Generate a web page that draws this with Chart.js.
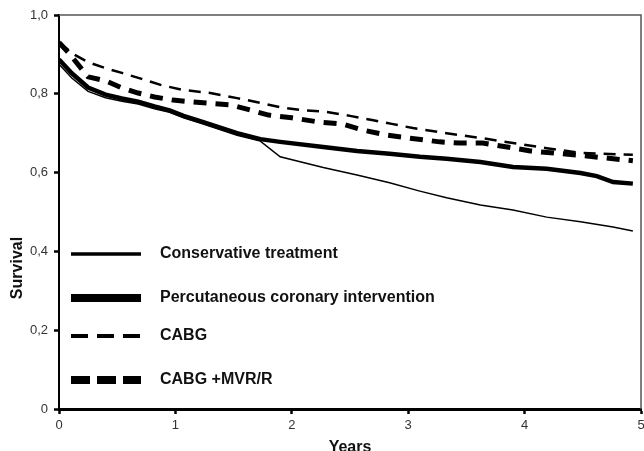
<!DOCTYPE html>
<html>
<head>
<meta charset="utf-8">
<script src="https://cdn.jsdelivr.net/npm/chart.js@4.4.0/dist/chart.umd.min.js"></script>
<style>
  html, body { margin: 0; padding: 0; background: #fff; }
  canvas { display: block; }
</style>
</head>
<body>
<canvas id="grafico" width="644" height="451"></canvas>
<script>
// survival curves (years, survival)
const conservadorT = [0, 0.11, 0.25, 0.4, 0.54, 0.68, 0.82, 0.95, 1.07, 1.24, 1.53, 1.73, 1.9, 2.27, 2.56, 2.84, 3.1, 3.33, 3.62, 3.9, 4.19, 4.48, 4.76, 4.93];
const conservadorV = [0.875, 0.84, 0.806, 0.79, 0.781, 0.774, 0.762, 0.753, 0.739, 0.723, 0.695, 0.68, 0.64, 0.613, 0.594, 0.574, 0.553, 0.536, 0.518, 0.505, 0.487, 0.475, 0.462, 0.452];

const pciT = [0, 0.11, 0.25, 0.4, 0.54, 0.68, 0.82, 0.95, 1.07, 1.24, 1.53, 1.73, 1.9, 2.27, 2.56, 2.84, 3.1, 3.33, 3.62, 3.9, 4.19, 4.48, 4.62, 4.76, 4.93];
const pciV = [0.887, 0.852, 0.816, 0.798, 0.788, 0.78, 0.768, 0.758, 0.744, 0.728, 0.7, 0.685, 0.678, 0.665, 0.655, 0.648, 0.64, 0.635, 0.627, 0.614, 0.61, 0.599, 0.591, 0.576, 0.572];

const cabgT = [0, 0.14, 0.25, 0.4, 0.54, 0.71, 0.88, 1.06, 1.3, 1.53, 1.73, 1.9, 2.07, 2.3, 2.5, 2.7, 2.87, 3.04, 3.33, 3.62, 3.9, 4.19, 4.48, 4.93];
const cabgV = [0.93, 0.898, 0.88, 0.865, 0.853, 0.838, 0.822, 0.81, 0.802, 0.789, 0.777, 0.766, 0.759, 0.754, 0.744, 0.733, 0.723, 0.713, 0.7, 0.688, 0.675, 0.662, 0.65, 0.645];

const mvrT = [0, 0.08, 0.25, 0.4, 0.54, 0.68, 0.82, 0.98, 1.24, 1.47, 1.64, 1.8, 2.0, 2.24, 2.44, 2.61, 2.82, 3.0, 3.27, 3.44, 3.64, 3.85, 4.05, 4.5, 4.93];
const mvrV = [0.93, 0.905, 0.843, 0.833, 0.815, 0.802, 0.792, 0.784, 0.777, 0.772, 0.759, 0.746, 0.739, 0.728, 0.723, 0.708, 0.695, 0.688, 0.678, 0.675, 0.675, 0.665, 0.655, 0.643, 0.63];

const etiquetas = ['Conservative treatment', 'Percutaneous coronary intervention', 'CABG', 'CABG +MVR/R'];
const yTicks = [0, 0.2, 0.4, 0.6, 0.8, 1.0];

function puntos(t, v) {
  return t.map((x, i) => ({ x: x, y: v[i] }));
}

const series = [
  { label: etiquetas[0], data: puntos(conservadorT, conservadorV), borderWidth: 1.5, borderDash: [], legendWidth: 3.5, legendDash: [] },
  { label: etiquetas[1], data: puntos(pciT, pciV), borderWidth: 4.5, borderDash: [], legendWidth: 8, legendDash: [] },
  { label: etiquetas[2], data: puntos(cabgT, cabgV), borderWidth: 2.5, borderDash: [12, 8], legendWidth: 4, legendDash: [17, 9] },
  { label: etiquetas[3], data: puntos(mvrT, mvrV), borderWidth: 5, borderDash: [13, 9], legendWidth: 8, legendDash: [19, 7] }
];

const leyendaY = [254, 298, 336, 380];
const fuente = '"Liberation Sans", Arial, sans-serif';

const marco = {
  id: 'marco',
  afterDraw(chart) {
    const { ctx, chartArea } = chart;
    ctx.save();
    // top and right border
    ctx.strokeStyle = '#555';
    ctx.lineWidth = 1.5;
    ctx.beginPath();
    ctx.moveTo(chartArea.left, chartArea.top);
    ctx.lineTo(chartArea.right, chartArea.top);
    ctx.lineTo(chartArea.right, chartArea.bottom);
    ctx.stroke();

    // legend inside the plot
    chart.data.datasets.forEach((ds, i) => {
      const y = leyendaY[i];
      ctx.strokeStyle = '#000';
      ctx.lineWidth = ds.legendWidth;
      ctx.setLineDash(ds.legendDash);
      ctx.lineCap = 'butt';
      ctx.beginPath();
      ctx.moveTo(71, y);
      ctx.lineTo(141, y);
      ctx.stroke();
      ctx.setLineDash([]);
      ctx.fillStyle = '#111';
      ctx.font = 'bold 16px ' + fuente;
      ctx.textBaseline = 'middle';
      ctx.textAlign = 'left';
      ctx.fillText(ds.label, 160, y);
    });

    // y axis title
    ctx.translate(18, 268);
    ctx.rotate(-Math.PI / 2);
    ctx.fillStyle = '#111';
    ctx.font = 'bold 16px ' + fuente;
    ctx.textAlign = 'center';
    ctx.textBaseline = 'middle';
    ctx.fillText('Survival', 0, 0);
    ctx.restore();
  }
};

const ctx = document.getElementById('grafico').getContext('2d');
new Chart(ctx, {
  type: 'line',
  data: {
    datasets: series.map(s => ({
      label: s.label,
      data: s.data,
      borderColor: '#000',
      backgroundColor: '#000',
      borderWidth: s.borderWidth,
      borderDash: s.borderDash,
      legendWidth: s.legendWidth,
      legendDash: s.legendDash,
      pointRadius: 0,
      tension: 0,
      fill: false
    }))
  },
  options: {
    responsive: false,
    devicePixelRatio: 1,
    animation: false,
    layout: { padding: { top: 15, right: 3, left: 0, bottom: 0 } },
    plugins: {
      legend: { display: false },
      tooltip: { enabled: false }
    },
    scales: {
      x: {
        type: 'linear',
        min: 0,
        max: 5,
        afterFit(scale) {
          scale.height = 42;
          scale.paddingRight = 0;
          scale.paddingLeft = 0;
        },
        border: { display: true, color: '#000', width: 3 },
        grid: { drawOnChartArea: false, drawTicks: true, tickLength: 5, tickColor: '#000', tickWidth: 2.5 },
        ticks: {
          stepSize: 1,
          padding: 4,
          color: '#333',
          font: { family: fuente, size: 13 }
        },
        title: {
          display: true,
          text: 'Years',
          color: '#111',
          padding: { top: -6, bottom: -6 },
          font: { family: fuente, size: 16, weight: 'bold' }
        }
      },
      y: {
        min: 0,
        max: 1,
        afterFit(scale) { scale.width = 59; },
        afterBuildTicks(scale) { scale.ticks = yTicks.map(v => ({ value: v })); },
        border: { display: true, color: '#000', width: 2 },
        grid: { drawOnChartArea: false, drawTicks: true, tickLength: 5, tickColor: '#000', tickWidth: 2.5 },
        ticks: {
          padding: 6,
          color: '#333',
          font: { family: fuente, size: 13 },
          callback: v => v === 0 ? '0' : v.toFixed(1).replace('.', ',')
        }
      }
    }
  },
  plugins: [marco]
});
</script>
</body>
</html>
